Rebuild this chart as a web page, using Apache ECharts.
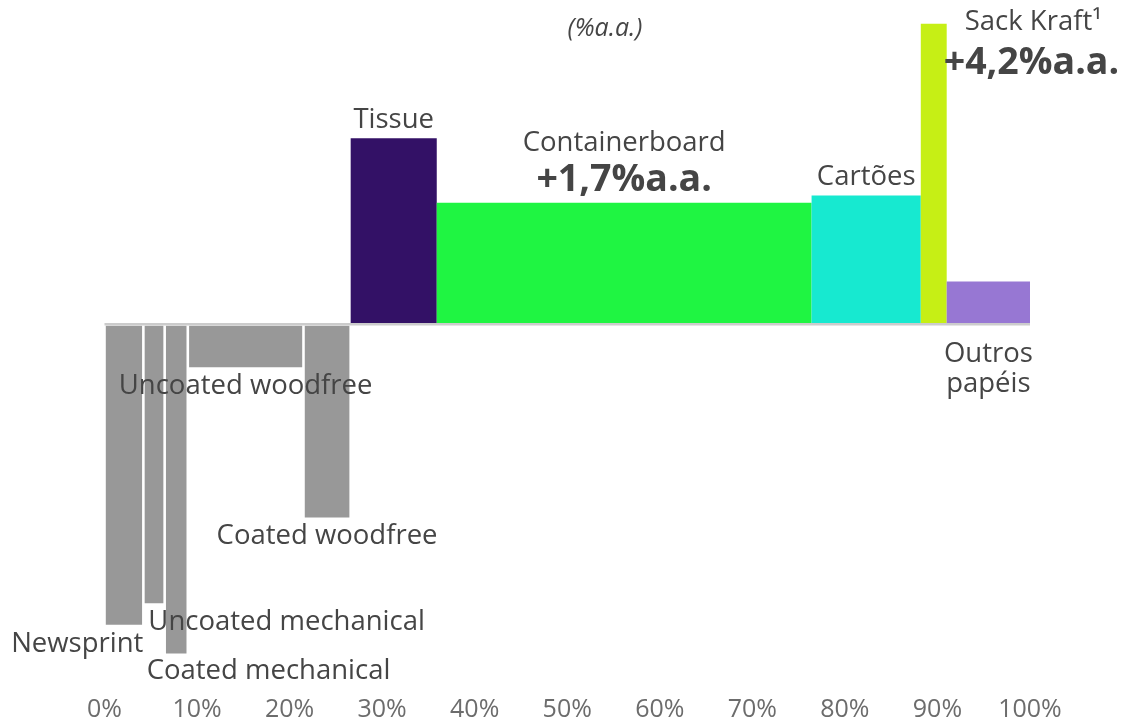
<!DOCTYPE html>
<html>
<head>
<meta charset="utf-8">
<script src="https://cdn.jsdelivr.net/npm/echarts@6/dist/echarts.min.js"></script>
<style>
  html, body { margin: 0; padding: 0; background: #fff; }
  #chart { width: 1127px; height: 722px; }
</style>
</head>
<body>
<div id="chart"></div>
<script>
// categorias (largura = participação %, altura = crescimento %a.a.)
const categories = ['Newsprint', 'Uncoated mechanical', 'Coated mechanical', 'Uncoated woodfree', 'Coated woodfree',
    'Tissue', 'Containerboard', 'Cartões', 'Sack Kraft¹', 'Outros\npapéis'];
const shares = [4.2, 2.3, 2.5, 12.5, 5.1, 9.3, 40.5, 11.8, 2.8, 9.0];
const growth = [-4.2, -3.9, -4.6, -0.6, -2.7, 2.6, 1.7, 1.8, 4.2, 0.6];
const growthLabels = ['', '', '', '', '', '', '+1,7%a.a.', '', '+4,2%a.a.', ''];
const colors = ['#989898', '#989898', '#989898', '#989898', '#989898',
    '#331166', '#1ff542', '#17e9d0', '#c6ef15', '#9777d3'];
const xTicks = [0, 10, 20, 30, 40, 50, 60, 70, 80, 90, 100];

// posição dos rótulos em relação à barra
const labelLayout = [
    { ax: 'end', dx: 0, align: 'right', ay: 'end', dy: 19 },
    { ax: 'start', dx: 5, align: 'left', ay: 'end', dy: 19 },
    { ax: 'start', dx: -18, align: 'left', ay: 'end', dy: 18 },
    { ax: 'center', dx: 0, align: 'center', ay: 'end', dy: 19 },
    { ax: 'center', dx: 0, align: 'center', ay: 'end', dy: 19 },
    { ax: 'center', dx: 0, align: 'center', ay: 'end', dy: -18 },
    { ax: 'center', dx: 0, align: 'center', ay: 'end', dy: -60, bx: 'center', bdx: 0, balign: 'center', bdy: -22 },
    { ax: 'center', dx: 0, align: 'center', ay: 'end', dy: -18 },
    { ax: 'end', dx: 18, align: 'left', ay: 'end', dy: -2, bx: 'end', bdx: -3, balign: 'left', bdy: 39 },
    { ax: 'center', dx: 0, align: 'center', ay: 'zero', dy: 45 }
];

let acc = 0;
const data = shares.map((w, i) => {
    const item = [acc, acc + w, growth[i], i];
    acc += w;
    return item;
});

const chart = echarts.init(document.getElementById('chart'));

function pickX(mode, x0, x1) {
    if (mode === 'start') return x0;
    if (mode === 'end') return x1;
    return (x0 + x1) / 2;
}

function renderItem(params, api) {
    const i = api.value(3);
    const p0 = api.coord([api.value(0), 0]);
    const p1 = api.coord([api.value(1), api.value(2)]);
    const gray = i < 5;
    const inset = gray ? 1.3 : 0;
    const x0 = p0[0] + inset, x1 = p1[0] - inset;
    const neg = api.value(2) < 0;
    const yTop = neg ? p0[1] + 1.5 : p1[1];
    const yBot = neg ? p1[1] : p0[1];
    const lay = labelLayout[i];
    const children = [{
        type: 'rect',
        shape: { x: x0, y: yTop, width: x1 - x0, height: yBot - yTop },
        style: { fill: colors[i] }
    }];
    const yRef = lay.ay === 'zero' ? p0[1] : p1[1];
    children.push({
        type: 'text',
        z2: 10,
        style: {
            text: categories[i],
            x: pickX(lay.ax, p0[0], p1[0]) + lay.dx,
            y: yRef + lay.dy,
            align: lay.align,
            verticalAlign: 'middle',
            fill: '#454545',
            fontFamily: 'Open Sans',
            fontSize: 27.5,
            lineHeight: 30
        }
    });
    if (growthLabels[i]) {
        children.push({
            type: 'text',
            z2: 10,
            style: {
                text: growthLabels[i],
                x: pickX(lay.bx, p0[0], p1[0]) + lay.bdx,
                y: p1[1] + lay.bdy,
                align: lay.balign,
                verticalAlign: 'middle',
                fill: '#454545',
                fontFamily: 'Open Sans',
                fontWeight: 'bold',
                fontSize: 37.5
            }
        });
    }
    return { type: 'group', children: children };
}

const option = {
    backgroundColor: '#fff',
    animation: false,
    textStyle: { fontFamily: 'Open Sans' },
    title: {
        text: '(%a.a.)',
        left: 600,
        top: 11,
        textAlign: 'center',
        textStyle: { fontSize: 25, fontStyle: 'italic', fontWeight: 'normal', color: '#454545' }
    },
    grid: { left: 104.5, right: 97, top: 2.4, height: 681 },
    xAxis: {
        type: 'value',
        min: xTicks[0],
        max: xTicks[xTicks.length - 1],
        interval: 10,
        axisLine: { show: false },
        axisTick: { show: false },
        splitLine: { show: false },
        axisLabel: {
            formatter: '{value}%',
            fontSize: 25,
            color: '#6c6c6c',
            margin: 15
        }
    },
    yAxis: {
        type: 'value',
        min: -5,
        max: 4.5,
        show: false,
        splitLine: { show: false }
    },
    series: [
        {
            type: 'custom',
            renderItem: renderItem,
            encode: { x: [0, 1], y: 2 },
            data: data,
            z: 2
        },
        {
            type: 'line',
            data: [[0, 0], [100, 0]],
            symbol: 'none',
            lineStyle: { color: '#cccccc', width: 2.5 },
            z: 3,
            silent: true
        }
    ]
};

chart.setOption(option);
</script>
</body>
</html>
